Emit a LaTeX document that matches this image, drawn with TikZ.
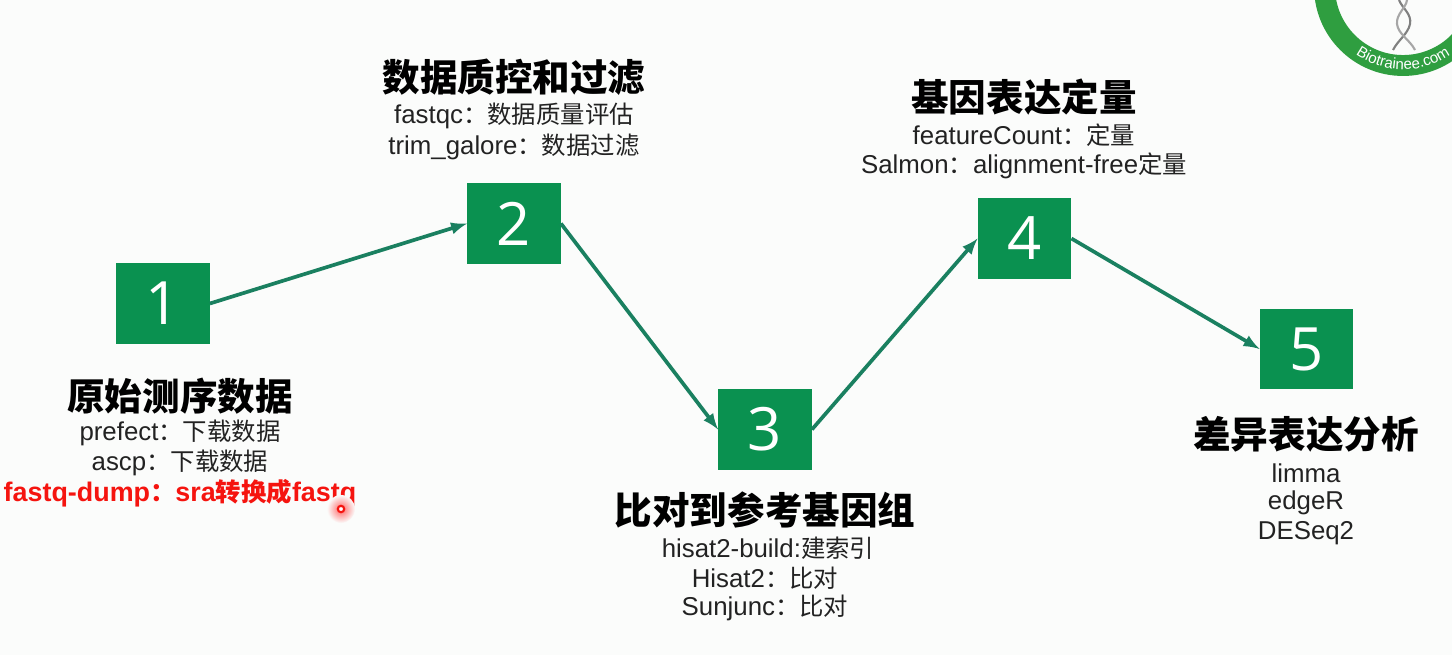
\documentclass[tikz,border=0pt]{standalone}
\usepackage{fontspec}
\usepackage{tikz}
\usetikzlibrary{arrows}
\usetikzlibrary{decorations.text}
\setmainfont{Liberation Sans}
\newfontfamily\cjk[Scale=0.945]{Noto Sans CJK SC}
\newfontfamily\digitfont{Open Sans}
\definecolor{boxgreen}{HTML}{0A9150}
\definecolor{arrowgreen}{HTML}{1A8060}
\definecolor{logogreen}{HTML}{2F9E40}
\definecolor{paper}{HTML}{FBFCFB}
\definecolor{alertred}{HTML}{F5140F}
\definecolor{inktext}{HTML}{222222}
\tikzset{
  stepbox/.style={draw=none, fill=boxgreen, text=white, minimum width=53pt, minimum height=46pt, inner sep=0pt, font=\digitfont\fontsize{34}{34}\selectfont},
  flow/.style={draw=arrowgreen, line width=2.1pt, -latex},
  headline/.style={inner sep=0pt, text=black, font=\cjk\bfseries\fontsize{22.6}{26}\selectfont},
  detail/.style={inner sep=0pt, text=inktext, font=\fontsize{14.7}{17}\selectfont},
  alert/.style={inner sep=0pt, text=alertred, font=\bfseries\fontsize{15.3}{18}\selectfont},
}
\begin{document}
\begin{tikzpicture}[x=0.02cm,y=-0.02cm]
        \useasboundingbox[fill=paper] (0,0) rectangle (1452,655);
        \clip (0,0) rectangle (1452,655);

        % logo
        \draw[logogreen, line width=11.9pt] (1403,-13) circle (78.5);
        \draw[gray, line width=1.2pt] (1399,0) .. controls (1402,8) and (1412,14) .. (1410,24) .. controls (1408,34) and (1398,40) .. (1393,50);
        \draw[gray!70, line width=1.2pt] (1407,0) .. controls (1406,8) and (1396,14) .. (1397,24) .. controls (1398,34) and (1410,40) .. (1415,50);
        \path[decorate, decoration={text along path, text align=center, text color=white, text={|\fontsize{8.6}{10}\selectfont|Biotrainee.com}}]
            (1403,-13) ++(128:82.5) arc[start angle=128, end angle=52, radius=82.5];

        \node[stepbox] (step1) at (163,303.5) {1};
        \node[stepbox] (step2) at (514,223.5) {2};
        \node[stepbox] (step3) at (765,429.5) {3};
        \node[stepbox] (step4) at (1024.5,238.5) {4};
        \node[stepbox] (step5) at (1306.5,349) {5};

        \draw[flow] (step1.east) -- (step2.west);
        \draw[flow] (step2.east) -- (step3.west);
        \draw[flow] (step3.east) -- (step4.west);
        \draw[flow] (step4.east) -- (step5.west);

        \node[headline] (title1) at (180,396) {原始测序数据};
        \node[detail] (line1a) at (180,433) {prefect{\cjk：下载数据}};
        \node[detail] (line1b) at (180,463) {ascp{\cjk：下载数据}};
        \node[alert] (line1c) at (180,493) {fastq-dump{\cjk\bfseries：}sra{\cjk\bfseries 转换成}fastq};

        \node[headline] (title2) at (514,77) {数据质控和过滤};
        \node[detail] (line2a) at (514,116) {fastqc{\cjk：数据质量评估}};
        \node[detail] (line2b) at (514,147) {trim\_galore{\cjk：数据过滤}};

        \node[headline] (title3) at (765,510) {比对到参考基因组};
        \node[detail] (line3a) at (768,548) {hisat2-build:{\cjk 建索引}};
        \node[detail] (line3b) at (765,578) {Hisat2{\cjk：比对}};
        \node[detail] (line3c) at (765,608) {Sunjunc{\cjk：比对}};

        \node[headline] (title4) at (1024,97) {基因表达定量};
        \node[detail] (line4a) at (1024,135) {featureCount{\cjk：定量}};
        \node[detail] (line4b) at (1024,166) {Salmon{\cjk：}alignment-free{\cjk 定量}};

        \node[headline] (title5) at (1306,434) {差异表达分析};
        \node[detail] (line5a) at (1306,473) {limma};
        \node[detail] (line5b) at (1306,503) {edgeR};
        \node[detail] (line5c) at (1306,533) {DESeq2};

        % pointer
        \shade[inner color=red!60, outer color=paper] (341,509) circle (14);
        \draw[draw=alertred, fill=white, line width=1.2pt] (341,509) circle (3.2);
    \end{tikzpicture}
\end{document}
